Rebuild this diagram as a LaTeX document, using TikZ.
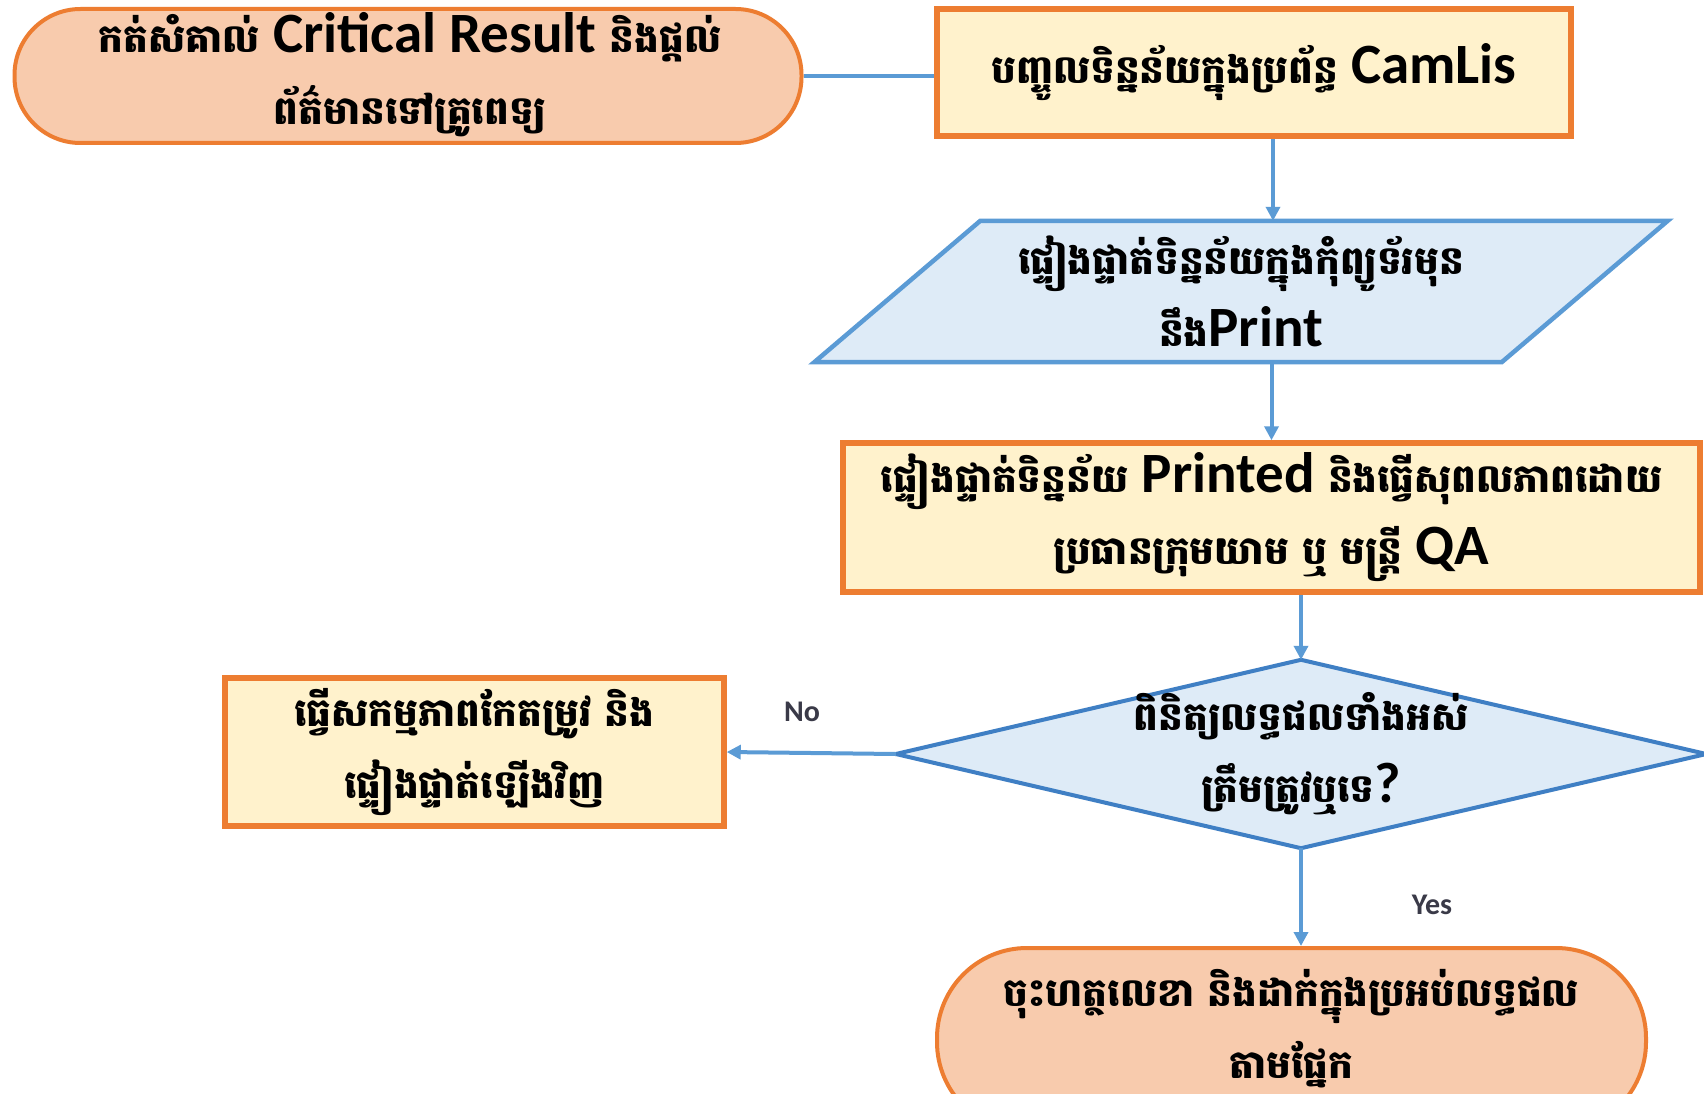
\documentclass[tikz,border=0pt]{standalone}
\usepackage{fontspec}
\newfontfamily\kh[Script=Khmer]{Battambang}
\newfontfamily\lt{Carlito}
\usetikzlibrary{arrows.meta}
\definecolor{orng}{HTML}{ED7D31}
\definecolor{peach}{HTML}{F8CBAD}
\definecolor{cream}{HTML}{FFF2CC}
\definecolor{lblue}{HTML}{DEEBF7}
\definecolor{bblue}{HTML}{5B9BD5}
\definecolor{dblue}{HTML}{3F7FC4}
\definecolor{lblgray}{HTML}{3A3A48}
\newcommand\latw[1]{{\lt\bfseries\fontsize{57}{57}\selectfont #1}}
\tikzset{
  khtext/.style={align=center, inner sep=0pt, text=black,
    font=\kh\bfseries\fontsize{39}{72}\selectfont},
  termA/.style={khtext, draw=orng, line width=4pt, fill=peach, rounded corners=66pt},
  termB/.style={khtext, draw=orng, line width=4pt, fill=peach, rounded corners=90pt},
  procbox/.style={khtext, draw=orng, line width=5.5pt, fill=cream},
  holder/.style={khtext},
  flowshape/.style={fill=lblue, line width=4.5pt},
  conn/.style={draw=bblue, line width=4pt},
  arr/.style={conn, -{Triangle[length=14pt,width=14pt]}},
  lbl/.style={font=\lt\bfseries\fontsize{30}{30}\selectfont, text=lblgray}
}
\begin{document}
\begin{tikzpicture}[x=1pt,y=-1pt]
\useasboundingbox (0,0) rectangle (1704,1094);
\clip (0,0) rectangle (1704,1094);
\fill[white] (0,0) rectangle (1704,1094);

% top-left terminator
\node[termA, minimum width=787pt, minimum height=134pt] (t1) at (408,76) {};
\node[khtext] (t1t) at (410,75)
  {កត់សំគាល់ \latw{Critical Result} និងផ្តល់\\ព័ត៌មានទៅគ្រូពេទ្យ};

% CamLis box
\node[procbox, minimum width=634pt, minimum height=127pt] (b1) at (1254,72.5)
  {បញ្ចូលទិន្នន័យក្នុងប្រព័ន្ធ \latw{CamLis}};

% parallelogram
\node[holder, minimum width=687pt, minimum height=141pt] (p) at (1241,291.5) {};
\filldraw[flowshape, draw=bblue]
  ([xshift=83pt]p.north west) -- ([xshift=83pt]p.north east)
  -- ([xshift=-83pt]p.south east) -- ([xshift=-83pt]p.south west) -- cycle;
\node[khtext] (pt) at (p.center)
  {ផ្ទៀងផ្ទាត់ទិន្នន័យក្នុងកុំព្យូទ័រមុន\\នឹង\latw{Print}};

% printed box
\node[procbox, minimum width=857pt, minimum height=149pt] (b4) at (1271.5,517.5)
  {ផ្ទៀងផ្ទាត់ទិន្នន័យ \latw{Printed} និងធ្វើសុពលភាពដោយ\\ប្រធានក្រុមយាម ឬ មន្ត្រី \latw{QA}};

% diamond
\node[holder, minimum width=810pt, minimum height=188pt] (d) at (1301,754) {};
\filldraw[flowshape, draw=dblue, line width=4pt]
  (d.north) -- (d.east) -- (d.south) -- (d.west) -- cycle;
\node[khtext] (dt) at (d.center)
  {ពិនិត្យលទ្ធផលទាំងអស់\\ត្រឹមត្រូវឬទេ\latw{?}};

% left box
\node[procbox, minimum width=499pt, minimum height=148pt] (b5) at (474.5,752)
  {ធ្វើសកម្មភាពកែតម្រូវ  និង\\ផ្ទៀងផ្ទាត់ឡើងវិញ};

% bottom terminator
\node[termB, minimum width=709pt, minimum height=184pt] (t2) at (1291.5,1040) {};
\node[khtext] (t2t) at (1291.5,1029)
  {ចុះហត្ថលេខា និងដាក់ក្នុងប្រអប់លទ្ធផល\\តាមផ្នែក};

% connectors
\draw[conn] (t1.east) -- (t1.east -| b1.west);
\draw[arr] ([xshift=19pt]b1.south) -- ([xshift=19pt]b1.south |- p.north);
\draw[arr] (b4.north |- p.south) -- (b4.north);
\draw[arr] (d.north |- b4.south) -- (d.north);
\draw[arr] (d.west) -- (b5.east);
\draw[arr] (d.south) -- (d.south |- t2.north);

\node[lbl] (no) at (802,712) {No};
\node[lbl] (yes) at (1432,905) {Yes};
\end{tikzpicture}
\end{document}
